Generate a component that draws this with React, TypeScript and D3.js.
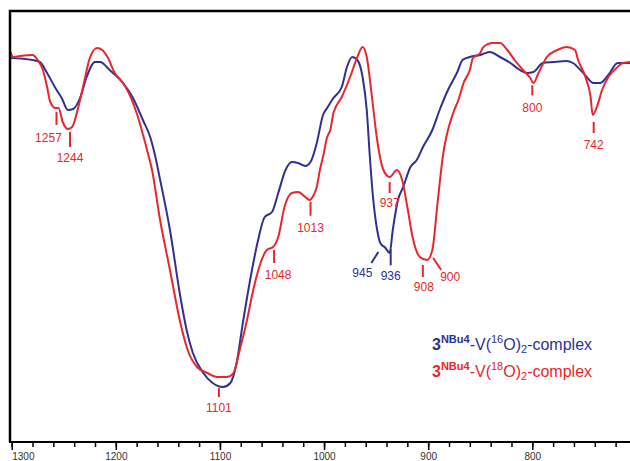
import React, { useRef, useEffect } from "react";
import * as d3 from "d3";

// IR spectra, transmittance in arbitrary units
const blueWavenumbers = [1301,1280,1273,1266,1258,1252,1246,1241,1234,1228,1220,1215,1206,1193,1184,1174,1167,1162,1158,1148,1138,1132,1126,1116,1107,1097,1090,1084,1078,1071,1064,1057,1050,1044,1037,1031,1025,1018,1013,1007,1001,997,991,983,978,973,968,963,959,956,953,949,946,941,937,934,929,924,917,911,905,896,889,881,872,867,860,850,841,831,821,812,805,799,790,780,767,761,751,741,735,727,718,713,706];
const blueValues = [38.3,38.1,37.9,36.8,35.3,34.3,33.1,33.2,34.4,36.4,37.9,37.9,37.1,35.8,34.4,32.1,30.4,28.4,26.4,21.1,14.4,11.1,8.8,6.8,5.8,5.4,5.8,7.8,11.8,16.1,19.8,22.4,22.9,24.8,27.1,27.9,27.8,27.5,27.9,29.8,32.6,33.3,34.3,35.4,37.4,38.4,38.1,36.4,33.1,28.4,24.4,21.1,19.8,19.3,18.8,21.1,24.1,25.4,27.4,28.1,29.4,31.1,33.1,35.1,36.9,38.1,38.4,38.6,38.9,38.4,37.8,37.1,36.8,36.9,37.8,37.9,38.0,37.8,36.8,35.8,35.8,36.6,37.8,37.8,37.8];

const redWavenumbers = [1301,1299,1292,1280,1275,1270,1266,1263,1258,1255,1251,1246,1242,1236,1230,1225,1218,1213,1208,1201,1194,1188,1180,1170,1165,1158,1148,1138,1131,1122,1112,1103,1093,1087,1081,1074,1068,1061,1055,1049,1044,1038,1031,1025,1018,1014,1010,1007,1004,1001,997,994,991,983,975,968,963,959,954,949,943,937,930,925,920,915,908,901,896,891,886,876,871,866,860,857,850,847,838,831,824,817,809,802,799,794,786,776,767,759,756,749,744,742,738,733,727,718,713,706];
const redValues = [38.9,38.4,38.5,38.6,38.1,37.1,35.4,33.9,33.3,33.3,31.9,31.2,31.4,33.4,36.1,38.3,39.3,39.1,38.4,36.8,35.9,34.9,32.8,29.1,27.0,22.4,17.1,11.8,9.1,7.4,6.8,6.4,6.4,6.8,9.1,12.1,15.1,17.8,19.1,19.4,20.4,23.4,24.8,24.9,24.4,24.1,24.6,25.4,27.1,28.4,30.4,31.1,32.8,34.4,36.4,38.4,39.4,38.4,34.4,30.1,27.1,26.4,27.1,26.1,23.4,20.4,18.4,18.1,19.1,23.8,28.4,32.8,34.1,35.8,37.1,38.3,38.8,39.4,39.8,39.8,39.1,38.1,37.1,36.3,35.8,36.8,38.4,39.1,39.4,39.1,38.1,36.4,34.4,32.6,33.4,35.1,36.4,37.4,37.8,37.9];

const majorTicks = [1300, 1200, 1100, 1000, 900, 800];
const minorTicks = d3.range(1300, 700, -20);

const redPeaks = [1257, 1244, 1101, 1048, 1013, 937, 908, 900, 800, 742];
const bluePeaks = [945, 936];

const BLUE = "#2e3192";
const RED = "#e8262b";

// label placement, offsets in px from the curve point: [tick dx0, dy0, dx1, dy1, text dx, text dy]
const labelLayout = {
  1257: [0, 4, 0, 17, -8, 34],
  1244: [0, 4, 0, 19, 0, 34],
  1101: [0, 11, 0, 20, 0, 35],
  1048: [0, 5, 0, 18, 4, 34],
  1013: [0, 3, 0, 17, 0, 33],
  937: [0, 5, 0, 16, 0, 30],
  908: [3, 8, 3, 20, 4, 34],
  900: [5, 0, 13, 12, 22, 23],
  800: [0, 4, 0, 14, 0, 31],
  742: [1, 7, 1, 18, 1, 34],
  945: [-3, 8, -10, 19, -19, 33],
  936: [0, 4, 0, 20, 0, 35],
};

const interp = (wns, vals, w) => {
  for (let i = 0; i < wns.length - 1; i++) {
    if (w <= wns[i] && w >= wns[i + 1]) {
      const t = (wns[i] - w) / (wns[i] - wns[i + 1]);
      return vals[i] + t * (vals[i + 1] - vals[i]);
    }
  }
  return vals[vals.length - 1];
};

const App = () => {
  const container = useRef(null);
  const width = 630;
  const height = 461;
  const left = 10, top = 11, bottom = 442;

  useEffect(() => {
    const svg = d3.select(container.current);
    svg.selectAll("*").remove();

    const x = d3.scaleLinear().domain([1300, 800]).range([11.7, 532.3]);
    const y = d3.scaleLinear().domain([0, 43]).range([441, 11]);

    svg.append("clipPath").attr("id", "plot")
      .append("rect").attr("x", left).attr("y", top).attr("width", width - left).attr("height", bottom - top);

    const line = d3.line().x(d => x(d[0])).y(d => y(d[1])).curve(d3.curveMonotoneX);

    const series = [
      { wn: blueWavenumbers, v: blueValues, color: BLUE },
      { wn: redWavenumbers, v: redValues, color: RED },
    ];

    series.forEach(s => {
      svg.append("path")
        .datum(d3.zip(s.wn, s.v))
        .attr("clip-path", "url(#plot)")
        .attr("fill", "none")
        .attr("stroke", s.color)
        .attr("stroke-width", 2)
        .attr("stroke-linejoin", "round")
        .attr("d", line);
    });

    // frame
    svg.append("path")
      .attr("d", `M${left},${bottom} L${left},${top} L${width},${top}`)
      .attr("fill", "none").attr("stroke", "#000").attr("stroke-width", 2.5);
    svg.append("line")
      .attr("x1", left - 1).attr("x2", width).attr("y1", bottom).attr("y2", bottom)
      .attr("stroke", "#000").attr("stroke-width", 2);

    // minor ticks
    const minor = svg.append("g").attr("transform", `translate(0, ${bottom})`)
      .call(d3.axisBottom(x).tickValues(minorTicks).tickSize(5).tickFormat(() => ""));
    minor.select(".domain").remove();
    minor.selectAll("line").attr("stroke-width", 1.5);

    const major = svg.append("g").attr("transform", `translate(0, ${bottom})`)
      .call(d3.axisBottom(x).tickValues(majorTicks).tickSize(8).tickPadding(3).tickFormat(d3.format("d")));
    major.select(".domain").remove();
    major.selectAll("line").attr("stroke-width", 1.5);
    major.selectAll("text")
      .style("font-family", "'Liberation Sans', Arial, sans-serif")
      .style("font-size", "10px")
      .attr("fill", "#333")
      .attr("text-anchor", d => (d === 1300 ? "start" : "middle"));

    // peak labels
    const peaks = [
      ...redPeaks.map(p => ({ p, color: RED, wn: redWavenumbers, v: redValues })),
      ...bluePeaks.map(p => ({ p, color: BLUE, wn: blueWavenumbers, v: blueValues })),
    ];
    peaks.forEach(({ p, color, wn, v }) => {
      const [dx0, dy0, dx1, dy1, tdx, tdy] = labelLayout[p];
      const px = x(p);
      const py = y(interp(wn, v, p));
      svg.append("line")
        .attr("x1", px + dx0).attr("y1", py + dy0)
        .attr("x2", px + dx1).attr("y2", py + dy1)
        .attr("stroke", color).attr("stroke-width", 2);
      svg.append("text")
        .attr("x", px + tdx).attr("y", py + tdy)
        .attr("text-anchor", "middle")
        .style("font-family", "'Liberation Sans', Arial, sans-serif")
        .style("font-size", "12px")
        .attr("fill", color)
        .text(p);
    });

    // legend
    const legend = [
      { iso: "16", color: BLUE, y: 350 },
      { iso: "18", color: RED, y: 377 },
    ];
    legend.forEach(l => {
      const t = svg.append("text")
        .attr("x", 432).attr("y", l.y)
        .attr("fill", l.color)
        .style("font-family", "'Liberation Sans', Arial, sans-serif")
        .style("font-size", "16px");
      t.append("tspan").style("font-weight", "bold").text("3");
      t.append("tspan").style("font-weight", "bold").style("font-size", "11px").attr("dy", -7).text("NBu4");
      t.append("tspan").attr("dy", 7).text("-V(");
      t.append("tspan").style("font-size", "11px").attr("dy", -7).text(l.iso);
      t.append("tspan").attr("dy", 7).text("O)");
      t.append("tspan").style("font-size", "11px").attr("dy", 3).text("2");
      t.append("tspan").attr("dy", -3).text("-complex");
    });
  }, []);

  return (
    <svg ref={container} width={width} height={height}
      style={{ position: "absolute", left: 0, top: 0, background: "#fff" }} />
  );
};

export default App;
